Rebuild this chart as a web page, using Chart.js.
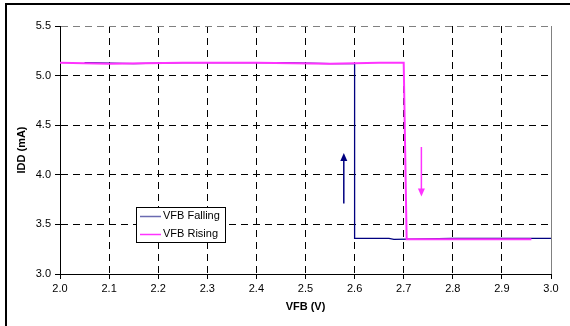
<!DOCTYPE html>
<html>
<head>
<meta charset="utf-8">
<script src="https://cdn.jsdelivr.net/npm/chart.js@4.4.1/dist/chart.umd.min.js"></script>
<style>
  html, body { margin: 0; padding: 0; background: #fff; }
  #wrap { position: relative; width: 570px; height: 326px; overflow: hidden; }
  #frame { position: absolute; left: 5px; top: 3px; width: 620px; height: 400px; border: 2px solid #000; }
  #chartCanvas { position: absolute; left: 0; top: 0; }
</style>
</head>
<body>
<div id="wrap">
  <div id="frame"></div>
  <canvas id="chartCanvas" width="570" height="326"></canvas>
</div>
<script>
// VFB falling sweep
const fallingX = [2.05, 2.15, 2.25, 2.35, 2.45, 2.55, 2.60, 2.60, 2.67, 2.68, 2.80, 3.00];
const fallingY = [5.13, 5.12, 5.13, 5.13, 5.13, 5.12, 5.12, 3.36, 3.36, 3.35, 3.36, 3.36];
// VFB rising sweep
const risingX = [2.00, 2.10, 2.25, 2.40, 2.55, 2.65, 2.70, 2.706, 2.80, 2.96];
const risingY = [5.13, 5.12, 5.13, 5.13, 5.12, 5.13, 5.13, 3.35, 3.35, 3.35];
// direction arrows: [x, fromY, toY]
const arrowFalling = [2.578, 3.71, 4.22];
const arrowRising = [2.736, 4.28, 3.78];

const toPoints = (xs, ys) => xs.map((x, i) => ({ x: x, y: ys[i] }));

const fallingColor = "#000080";
const risingColor = "#ff33ff";

// arrows + legend box drawn on top of the plot
const extrasPlugin = {
  id: "extras",
  afterDatasetsDraw(chart) {
    const ctx = chart.ctx;
    const xs = chart.scales.x;
    const ys = chart.scales.y;
    const drawArrow = (a, color) => {
      const x = xs.getPixelForValue(a[0]);
      const y1 = ys.getPixelForValue(a[1]);
      const y2 = ys.getPixelForValue(a[2]);
      const dir = y2 < y1 ? 1 : -1;
      ctx.save();
      ctx.strokeStyle = color;
      ctx.fillStyle = color;
      ctx.lineWidth = 1.5;
      ctx.beginPath();
      ctx.moveTo(x, y1);
      ctx.lineTo(x, y2 + dir * 6);
      ctx.stroke();
      ctx.beginPath();
      ctx.moveTo(x, y2);
      ctx.lineTo(x - 3.5, y2 + dir * 8);
      ctx.lineTo(x + 3.5, y2 + dir * 8);
      ctx.closePath();
      ctx.fill();
      ctx.restore();
    };
    drawArrow(arrowFalling, fallingColor);
    drawArrow(arrowRising, "#ff33ff");

    // legend
    ctx.save();
    ctx.fillStyle = "#fff";
    ctx.fillRect(136, 207, 89, 35);
    ctx.strokeStyle = "#000";
    ctx.lineWidth = 1;
    ctx.strokeRect(136.5, 207.5, 89, 35);
    ctx.font = "11px 'Liberation Sans', Arial, sans-serif";
    ctx.textBaseline = "middle";
    chart.data.datasets.forEach((ds, i) => {
      const y = 216 + i * 18;
      ctx.strokeStyle = i === 0 ? "#6a6ab0" : "#ff33ff";
      ctx.lineWidth = 1.5;
      ctx.beginPath();
      ctx.moveTo(140, y + 0.5);
      ctx.lineTo(161, y + 0.5);
      ctx.stroke();
      ctx.fillStyle = "#000";
      ctx.fillText(ds.label, 163, y);
    });
    ctx.restore();
  },
};

new Chart(document.getElementById("chartCanvas"), {
  type: "scatter",
  data: {
    datasets: [
      {
        label: "VFB Falling",
        data: toPoints(fallingX, fallingY),
        showLine: true,
        borderColor: fallingColor,
        borderWidth: 1.3,
        pointRadius: 0,
        order: 1,
      },
      {
        label: "VFB Rising",
        data: toPoints(risingX, risingY),
        showLine: true,
        borderColor: risingColor,
        borderWidth: 2,
        pointRadius: 0,
        order: 0,
      },
    ],
  },
  options: {
    responsive: false,
    animation: false,
    layout: { padding: { left: 6, top: 26, right: 19, bottom: 0 } },
    plugins: {
      legend: { display: false },
      tooltip: { enabled: false },
    },
    scales: {
      x: {
        type: "linear",
        min: 2.0,
        max: 3.0,
        afterFit: (scale) => { scale.height = 52; },
        ticks: {
          stepSize: 0.1,
          color: "#000",
          padding: 3,
          font: { size: 11, family: "'Liberation Sans', Arial, sans-serif" },
          callback: (v) => v.toFixed(1),
        },
        grid: {
          color: (c) => (c.tick && Math.abs(c.tick.value - 3.0) < 1e-6 ? "#808080" : "#000"),
          tickColor: "#000",
          tickLength: 5,
          lineWidth: 1,
        },
        border: {
          color: "#000",
          width: 1,
          dash: (c) => (c.tick && Math.abs(c.tick.value - 3.0) < 1e-6 ? [] : [7, 5]),
        },
        title: {
          display: true,
          text: "VFB (V)",
          color: "#000",
          font: { size: 11, weight: "bold", family: "'Liberation Sans', Arial, sans-serif" },
          padding: { top: 4, bottom: 12 },
        },
      },
      y: {
        type: "linear",
        min: 3.0,
        max: 5.5,
        afterFit: (scale) => { scale.width = 54; },
        ticks: {
          stepSize: 0.5,
          color: "#000",
          padding: 4,
          font: { size: 11, family: "'Liberation Sans', Arial, sans-serif" },
          callback: (v) => v.toFixed(1),
        },
        grid: {
          color: (c) => (c.tick && Math.abs(c.tick.value - 5.5) < 1e-6 ? "#808080" : "#000"),
          tickColor: "#000",
          tickLength: 5,
          lineWidth: 1,
        },
        border: {
          color: "#000",
          width: 1,
          dash: [7, 5],
        },
        title: {
          display: true,
          text: "IDD (mA)",
          color: "#000",
          font: { size: 11, weight: "bold", family: "'Liberation Sans', Arial, sans-serif" },
          padding: { top: 9, bottom: 4 },
        },
      },
    },
  },
  plugins: [extrasPlugin],
});
</script>
</body>
</html>
